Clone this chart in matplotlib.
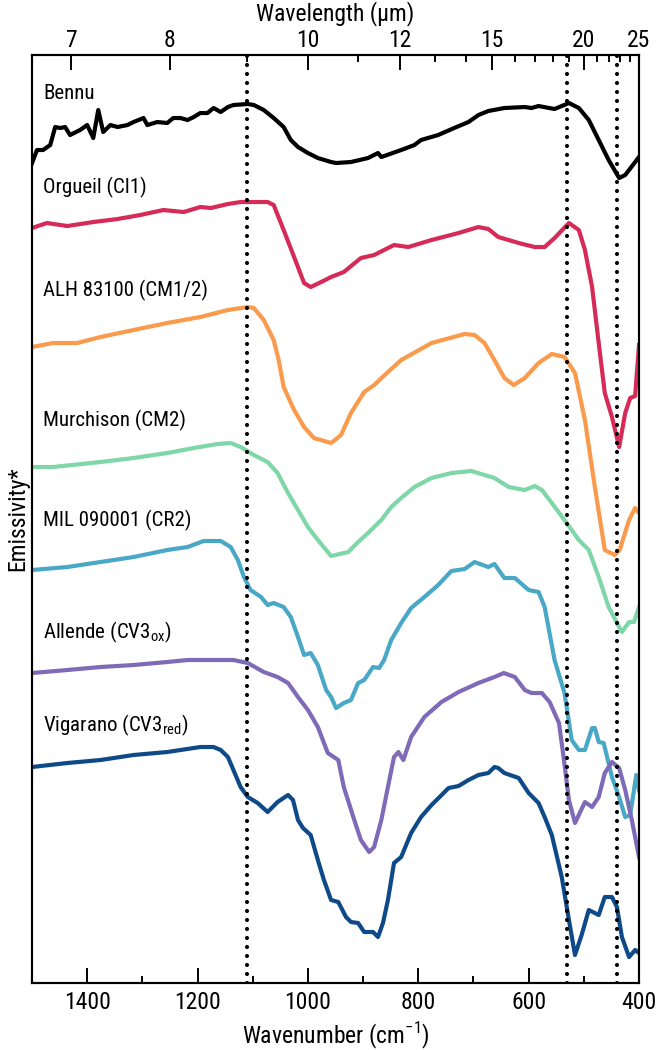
#!/usr/bin/env python3
"""
Emissivity spectra of Bennu and carbonaceous chondrites, stacked with offsets.
Bottom axis: wavenumber (cm-1); top axis: wavelength (um).
"""

import numpy as np
import matplotlib
matplotlib.use("Agg")
import matplotlib.pyplot as plt
from matplotlib import font_manager

# ---------------------------------------------------------------------------
# Data (emissivity in arbitrary offset units)
# ---------------------------------------------------------------------------
bennu_wn = [1500, 1491, 1480, 1467, 1458, 1449, 1440, 1431, 1413, 1400, 1389, 1380,
            1371, 1358, 1345, 1327, 1316, 1298, 1291, 1273, 1255, 1244, 1231, 1218,
            1207, 1195, 1182, 1171, 1158, 1145, 1135, 1109, 1098, 1080, 1062, 1044,
            1031, 1018, 1000, 982, 958, 949, 922, 891, 873, 867, 831, 807, 795, 764,
            735, 709, 691, 673, 644, 607, 595, 582, 553, 527, 509, 491, 473, 455,
            436, 425, 400]
bennu_em = [827, 840, 840, 845, 863, 862, 863, 855, 860, 865, 852, 880,
            858, 865, 863, 865, 868, 872, 865, 868, 867, 872, 872, 870,
            873, 877, 877, 882, 878, 883, 885, 886, 885, 880, 872, 863,
            850, 843, 837, 832, 828, 827, 828, 832, 837, 833, 840, 845, 850, 855,
            862, 868, 875, 879, 882, 883, 882, 884, 881, 887, 882, 870, 850, 830,
            812, 815, 833]

orgueil_wn = [1500, 1473, 1436, 1389, 1345, 1304, 1262, 1225, 1195, 1176, 1145, 1122,
              1073, 1062, 1044, 1025, 1007, 995, 976, 958, 935, 904, 880, 844, 818,
              776, 727, 691, 673, 655, 618, 589, 571, 553, 527, 509, 498, 485, 473,
              462, 449, 436, 425, 416, 407, 400]
orgueil_em = [762, 767, 764, 768, 771, 775, 780, 778, 783, 782, 786, 788,
              788, 785, 760, 733, 707, 703, 708, 713, 718, 732, 735, 745, 743,
              750, 757, 763, 761, 753, 747, 743, 743, 752, 767, 760, 740, 703, 647,
              597, 573, 543, 577, 592, 594, 645]

alh_wn = [1500, 1462, 1418, 1376, 1316, 1255, 1195, 1145, 1109, 1098, 1080, 1062,
          1053, 1044, 1025, 1007, 989, 958, 940, 922, 898, 880, 855, 831, 776, 716,
          698, 680, 662, 644, 627, 607, 582, 558, 535, 516, 498, 480, 462, 444, 435,
          418, 407, 400]
alh_em = [643, 647, 647, 653, 660, 667, 673, 680, 683, 682, 670, 650,
          630, 603, 580, 563, 552, 547, 555, 577, 598, 605, 618, 630, 647, 656,
          655, 647, 630, 612, 605, 612, 627, 636, 633, 617, 570, 503, 440, 435, 440,
          470, 482, 477]

murchison_wn = [1500, 1462, 1376, 1316, 1255, 1207, 1164, 1140, 1122, 1098, 1073, 1055,
                1036, 1018, 1000, 982, 958, 927, 909, 891, 880, 867, 849, 831, 807,
                776, 740, 704, 662, 636, 607, 589, 576, 558, 535, 509, 491, 473, 455,
                436, 431, 418, 409, 400]
murchison_em = [523, 523, 528, 532, 537, 542, 546, 547, 543, 535, 528, 517,
                497, 480, 463, 450, 434, 438, 448, 457, 463, 470, 483, 492, 503,
                512, 517, 519, 512, 503, 500, 504, 500, 487, 470, 450, 440, 413, 383,
                363, 358, 368, 368, 383]

mil_wn = [1500, 1436, 1376, 1316, 1255, 1218, 1189, 1158, 1140, 1127, 1116, 1104,
          1085, 1073, 1062, 1044, 1031, 1018, 1007, 995, 982, 967, 958, 949, 935,
          922, 909, 898, 882, 871, 862, 849, 831, 813, 789, 764, 740, 716, 698, 673,
          662, 644, 625, 600, 582, 571, 553, 535, 522, 509, 498, 485, 480, 473, 464,
          449, 436, 425, 416, 405, 400]
mil_em = [420, 423, 428, 433, 440, 443, 449, 449, 443, 430, 413, 400,
          393, 385, 387, 383, 373, 353, 335, 337, 325, 300, 293, 282, 287,
          290, 307, 310, 323, 322, 330, 350, 367, 382, 393, 405, 419, 421, 428, 423,
          426, 412, 412, 400, 398, 383, 330, 297, 250, 240, 240, 262, 262, 248, 247,
          213, 193, 173, 175, 215, 200]

allende_wn = [1500, 1436, 1376, 1316, 1255, 1218, 1182, 1135, 1109, 1080, 1055, 1036,
              1018, 1000, 982, 964, 945, 935, 916, 904, 889, 880, 867, 855, 844, 836,
              827, 813, 789, 758, 727, 691, 662, 645, 625, 607, 595, 576, 562, 545,
              536, 527, 516, 498, 485, 473, 462, 449, 436, 425, 413, 400]
allende_em = [317, 320, 323, 325, 328, 330, 330, 330, 327, 318, 313, 307,
              293, 280, 263, 237, 230, 203, 170, 150, 138, 143, 170, 203, 233, 238,
              230, 253, 273, 288, 298, 307, 313, 317, 313, 300, 297, 297, 288, 267,
              230, 190, 167, 188, 183, 193, 217, 228, 222, 200, 170, 133]

vigarano_wn = [1500, 1436, 1376, 1316, 1255, 1195, 1171, 1158, 1145, 1135, 1122, 1109,
               1091, 1073, 1055, 1036, 1027, 1018, 1009, 995, 982, 971, 958, 945, 931,
               922, 909, 898, 882, 873, 864, 855, 844, 831, 813, 795, 776, 745, 727,
               709, 691, 673, 662, 655, 644, 618, 600, 582, 571, 558, 540, 527, 516,
               504, 491, 473, 462, 449, 440, 431, 418, 407, 400]
vigarano_em = [223, 227, 230, 235, 238, 243, 243, 240, 233, 220, 203, 193,
               187, 178, 188, 195, 190, 170, 162, 155, 130, 110, 90, 88, 73,
               68, 67, 58, 58, 53, 67, 90, 127, 133, 157, 173, 185, 202, 204,
               210, 215, 217, 223, 222, 217, 212, 197, 187, 173, 155, 113, 70, 35,
               55, 80, 75, 93, 93, 83, 53, 33, 40, 37]

# Names, label heights and colours of the stacked spectra (top to bottom)
nomes = ["Bennu", "Orgueil (CI1)", "ALH 83100 (CM1/2)", "Murchison (CM2)",
         "MIL 090001 (CR2)", "Allende (CV3$_{\\mathregular{ox}}$)",
         "Vigarano (CV3$_{\\mathregular{red}}$)"]
label_y = [897, 803, 700, 570, 470, 358, 265]
cores = ["#000000", "#D62A57", "#FA9A4C", "#7FD6A7", "#48A8C6", "#7F6AB7", "#0F4A88"]

# Diagnostic features (dotted lines), cm-1
feicoes = [1110, 531, 440]

# Tick positions
wn_major = [1400, 1200, 1000, 800, 600, 400]
wn_minor = [1300, 1100, 900, 700, 500]
wl_major = [7, 8, 10, 12, 15, 20, 25]
wl_minor = [9, 11, 13, 14, 16, 17, 18, 19, 21, 22, 23, 24]


def escolher_fonte():
    """Pick a condensed sans family if one is installed."""
    nomes_inst = {f.name for f in font_manager.fontManager.ttflist}
    for fam in ["Liberation Sans Narrow", "Roboto Condensed", "Open Sans Condensed"]:
        if fam in nomes_inst:
            return fam, "normal"
    return "DejaVu Sans", "condensed"


def main():
    fam, stretch = escolher_fonte()
    plt.rcParams["font.family"] = [fam, "DejaVu Sans"]
    plt.rcParams["font.stretch"] = stretch
    plt.rcParams["mathtext.fontset"] = "custom"
    plt.rcParams["mathtext.rm"] = fam

    fig = plt.figure(figsize=(6.63, 10.5), dpi=100)
    ax = fig.add_axes([0.0483, 0.0638, 0.9155, 0.8838])

    series = [(bennu_wn, bennu_em), (orgueil_wn, orgueil_em), (alh_wn, alh_em),
              (murchison_wn, murchison_em), (mil_wn, mil_em),
              (allende_wn, allende_em), (vigarano_wn, vigarano_em)]

    for (wn, em), nome, ly, cor in zip(series, nomes, label_y, cores):
        ax.plot(wn, em, color=cor, lw=3.0, solid_joinstyle="round", zorder=2)
        ax.text(1480, ly, nome, ha="left", va="center", fontsize=15)

    # Dotted vertical lines
    for f in feicoes:
        ax.axvline(f, color="black", lw=3.0, linestyle=(0, (0.01, 2.15)),
                   dash_capstyle="round", zorder=3)

    ax.set_xlim(1500, 400)
    ax.set_ylim(7, 935)
    ax.set_yticks([])

    ax.set_xticks(wn_major)
    ax.set_xticks(wn_minor, minor=True)
    ax.tick_params(axis="x", which="both", direction="in", width=1.4,
                   labelsize=17, pad=6)
    ax.tick_params(axis="x", which="major", length=11)
    ax.tick_params(axis="x", which="minor", length=5)
    ax.set_xlabel("Wavenumber (cm$^{\\mathregular{-1}}$)", fontsize=17, labelpad=4)
    ax.set_ylabel("Emissivity*", fontsize=17, labelpad=2)

    for s in ax.spines.values():
        s.set_linewidth(1.5)

    # Top axis in wavelength
    ax2 = ax.twiny()
    ax2.set_xlim(ax.get_xlim())
    ax2.set_xticks(10000.0 / np.array(wl_major))
    ax2.set_xticklabels([str(w) for w in wl_major])
    ax2.set_xticks(10000.0 / np.array(wl_minor), minor=True)
    ax2.tick_params(axis="x", which="both", direction="in", width=1.4,
                    labelsize=17, pad=2)
    ax2.tick_params(axis="x", which="major", length=11)
    ax2.tick_params(axis="x", which="minor", length=5)
    ax2.set_xlabel("Wavelength (µm)", fontsize=17, labelpad=6)
    for s in ax2.spines.values():
        s.set_linewidth(1.5)

    fig.savefig("out.png", dpi=100)


if __name__ == "__main__":
    main()
